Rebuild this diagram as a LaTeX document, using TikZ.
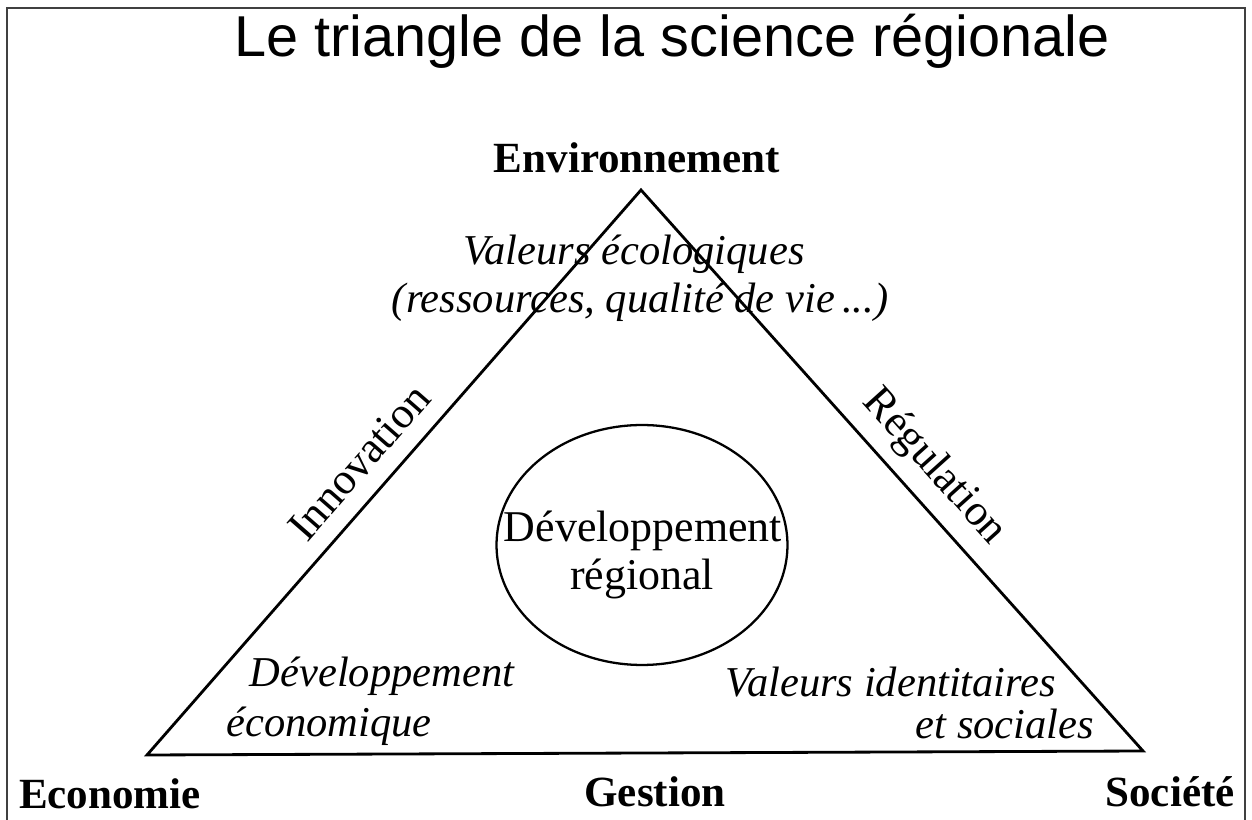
\documentclass[tikz,border=0pt]{standalone}
\usepackage{fontspec}
\setmainfont{Liberation Serif}
\newfontfamily\titlefont{Liberation Sans}
\usetikzlibrary{shapes.geometric, positioning}
\tikzset{
  corner/.style={font=\fontsize{24.5}{29}\selectfont\bfseries, inner sep=0pt, anchor=base},
  value/.style={font=\fontsize{24.2}{29}\selectfont\itshape, inner sep=0pt, anchor=base},
  side/.style={font=\fontsize{25}{30}\selectfont, inner sep=0pt},
  edge/.style={line width=1.6pt, line join=miter},
  frame/.style={line width=1.1pt, draw=black!75},
  core/.style={ellipse, draw, line width=1.3pt, minimum width=5.82cm,
    minimum height=4.8cm, inner sep=0pt},
}

\begin{document}
\begin{tikzpicture}[x=0.02cm, y=-0.02cm]
  \useasboundingbox (0,0) rectangle (1252,820);

  % ---- Frame and title ---------------------------------------------------
  \draw[frame] (7,822) -- (7,8) -- (1245,8) -- (1245,822);
  \node[inner sep=0pt, anchor=base, font=\fontsize{32.8}{38}\selectfont\titlefont]
        (title) at (672,57) {Le triangle de la science régionale};

  % ---- Triangle ----------------------------------------------------------
  \coordinate (top)   at (641,190);
  \coordinate (left)  at (147,755);
  \coordinate (right) at (1143,751);
  \draw[edge] (top) -- (left) -- (right) -- cycle;

  % ---- Poles -------------------------------------------------------------
  \node[corner] (env) at (637,173) {Environnement};
  \node[corner] (eco) at (110,809) {Economie};
  \node[corner] (ges) at (655,807) {Gestion};
  \node[corner] (soc) at (1170,807) {Société};

  % ---- Values near each corner -------------------------------------------
  \node[value] (eco1) at (634,265) {Valeurs écologiques};
  \node[value] (eco2) at (640,313) {(ressources, qualité de vie\,...)};
  \node[value] (dev1) at (382,687) {Développement};
  \node[value] (dev2) at (329,737) {économique};
  \node[value] (soc1) at (891,697) {Valeurs identitaires};
  \node[value] (soc2) at (1005,739) {et sociales};

  % ---- Sides -------------------------------------------------------------
  \node[side, rotate=48.8] (inno) at (359,462) {Innovation};
  \node[side, rotate=-48]  (regu) at (934,467) {Régulation};

  % ---- Centre ------------------------------------------------------------
  \node[core] (centre) at (642,545) {};
  \node[side, anchor=base] (cen1) at (643,542) {Développement};
  \node[side, anchor=base] (cen2) at (642,590) {régional};

\end{tikzpicture}
\end{document}
